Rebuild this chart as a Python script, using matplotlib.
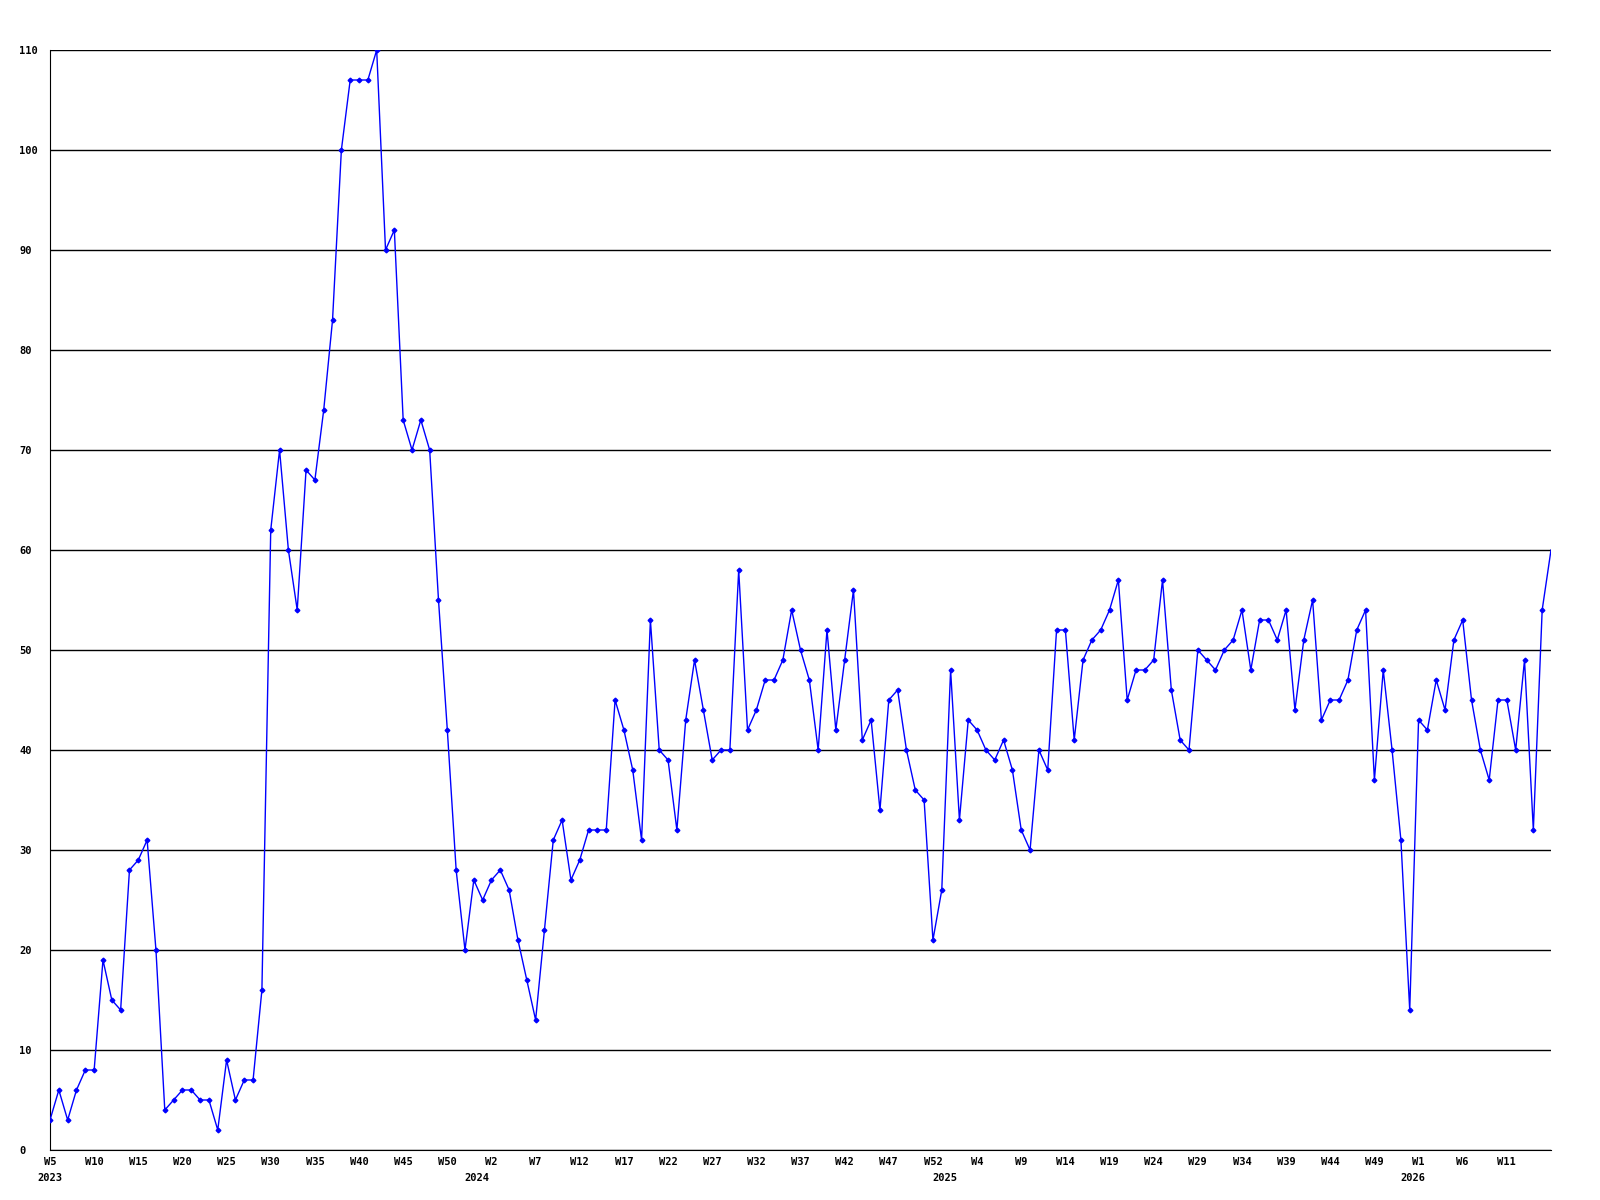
import numpy as np
import matplotlib.pyplot as plt

# weekly counts, starting 2023 W5 (the source numbers weeks W1..W53 each year)
start_year = 2023
start_week = 5
weeks_per_year = 53
counts = [3, 6, 3, 6, 8, 8, 19, 15, 14, 28, 29, 31, 20, 4, 5, 6, 6, 5, 5, 2,
          9, 5, 7, 7, 16, 62, 70, 60, 54, 68, 67, 74, 83, 100, 107, 107, 107, 110, 90, 92,
          73, 70, 73, 70, 55, 42, 28, 20, 27, 25, 27, 28, 26, 21, 17, 13, 22, 31, 33, 27,
          29, 32, 32, 32, 45, 42, 38, 31, 53, 40, 39, 32, 43, 49, 44, 39, 40, 40, 58, 42,
          44, 47, 47, 49, 54, 50, 47, 40, 52, 42, 49, 56, 41, 43, 34, 45, 46, 40, 36, 35,
          21, 26, 48, 33, 43, 42, 40, 39, 41, 38, 32, 30, 40, 38, 52, 52, 41, 49, 51, 52,
          54, 57, 45, 48, 48, 49, 57, 46, 41, 40, 50, 49, 48, 50, 51, 54, 48, 53, 53, 51,
          54, 44, 51, 55, 43, 45, 45, 47, 52, 54, 37, 48, 40, 31, 14, 43, 42, 47, 44, 51,
          53, 45, 40, 37, 45, 45, 40, 49, 32, 54, 60]
y_ticks = [0, 10, 20, 30, 40, 50, 60, 70, 80, 90, 100, 110]

# week / year for every point
weeks = []
years = []
w, yr = start_week, start_year
for i in range(len(counts)):
    weeks.append(w)
    years.append(yr)
    w += 1
    if w > weeks_per_year:
        w = 1
        yr += 1

x = np.arange(len(counts))
last = len(counts) - 1

fig = plt.figure(figsize=(16, 12), dpi=100)
ax = fig.add_axes([50 / 1600, 50 / 1200, 1501 / 1600, 1100 / 1200])

for v in y_ticks:
    ax.axhline(v, color='black', linewidth=1, zorder=1)

ax.plot(x, counts, color='#0000ff', linewidth=1.0, marker='D', markersize=2.4,
        markevery=list(range(last)), zorder=3)

ax.set_xlim(0, last)
ax.set_ylim(0, 110)

for s in ['top', 'right']:
    ax.spines[s].set_visible(False)
ax.spines['left'].set_color('black')
ax.spines['bottom'].set_color('black')

fnt = dict(family='DejaVu Sans Mono', weight='bold', size=7.5)

ax.set_yticks(y_ticks)
ax.set_yticklabels([str(v) for v in y_ticks], ha='left', **fnt)
ax.tick_params(axis='y', length=0, pad=22)

# a label every 5 weeks, none on the final point
tick_pos = [i for i in x if i % 5 == 0 and i != last]
ax.set_xticks(tick_pos)
ax.set_xticklabels(['W%d' % weeks[i] for i in tick_pos], **fnt)
ax.tick_params(axis='x', length=0, pad=5)

year_pos = [i for i in x if i == 0 or weeks[i] == 1]
for i in year_pos:
    dx = 0 if i == 0 else -4
    ax.annotate(str(years[i]), xy=(i, 0), xycoords='data', xytext=(dx, -16.5),
                textcoords='offset points', ha='center', va='top', **fnt)

fig.savefig('out.png', dpi=100, facecolor='white')
